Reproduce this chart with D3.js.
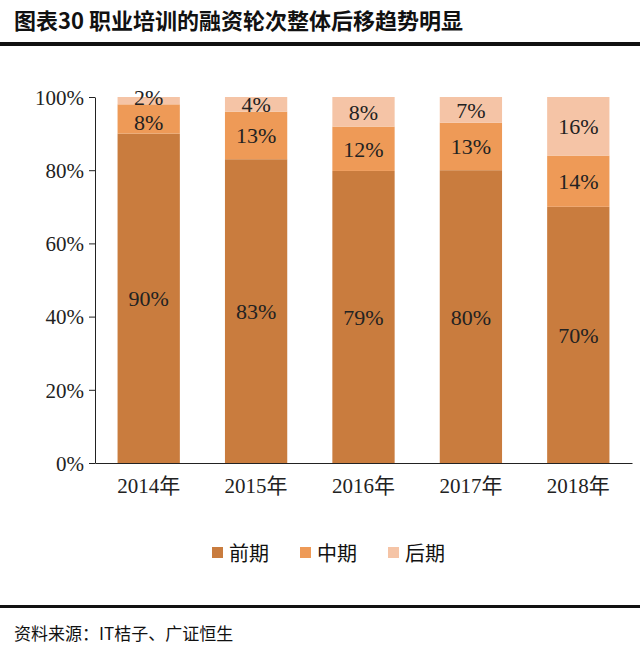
<!DOCTYPE html>
<html><head><meta charset="utf-8">
<script src="https://cdn.jsdelivr.net/npm/d3@7"></script>
<style>body{margin:0;background:#fff}</style></head>
<body><svg id="c" width="640" height="651"></svg>
<script>
const years = ["2014年","2015年","2016年","2017年","2018年"];
const early = [90,83,79,80,70];
const mid = [8,13,12,13,14];
const late = [2,4,8,7,16];
const seriesNames = ["前期","中期","后期"];
const colors = ["#C97C3E","#EE9A57","#F5C4A6"];
const yTicks = [0,0.2,0.4,0.6,0.8,1];

const svg = d3.select("#c");
const font = "'Liberation Serif','Noto Sans CJK SC',serif";
svg.append("text").attr("x",14).attr("y",29).attr("font-family","'Noto Sans CJK SC',sans-serif")
  .attr("font-weight","bold").attr("font-size",22).attr("fill","#111").text("图表30 职业培训的融资轮次整体后移趋势明显");
svg.append("rect").attr("x",0).attr("y",42).attr("width",640).attr("height",4).attr("fill","#111");
svg.append("rect").attr("x",0).attr("y",605).attr("width",640).attr("height",3).attr("fill","#111");
svg.append("text").attr("x",14).attr("y",640).attr("font-family","'Noto Sans CJK SC',sans-serif")
  .attr("font-size",17).attr("fill","#111").text("资料来源：IT桔子、广证恒生");

const rows = years.map((y,i)=>({year:y,"前期":early[i],"中期":mid[i],"后期":late[i]}));
const stack = d3.stack().keys(seriesNames).offset(d3.stackOffsetExpand)(rows);
const x = d3.scaleBand().domain(years).range([95,632]).paddingInner(0.42).paddingOuter(0.21);
const y = d3.scaleLinear().domain([0,1]).range([463,97]);

stack.forEach((s,si)=>{
  svg.append("g").selectAll("rect").data(s).join("rect")
    .attr("x",d=>x(d.data.year)).attr("width",x.bandwidth())
    .attr("y",d=>y(d[1])).attr("height",d=>y(d[0])-y(d[1])).attr("fill",colors[si]);
  svg.append("g").selectAll("text").data(s).join("text")
    .attr("x",d=>x(d.data.year)+x.bandwidth()/2)
    .attr("y",d=>{const h=y(d[0])-y(d[1]); const c=(y(d[0])+y(d[1]))/2 + 8;
      if (d.data["后期"]<3) { if(si==2) return c-4; if(si==1) return c+3; }
      return c;})
    .attr("text-anchor","middle").attr("font-family",font).attr("font-size",22).attr("fill","#222")
    .text(d=>d.data[s.key]+"%");
});

const ya = svg.append("g").attr("transform","translate(95,0)")
  .call(d3.axisLeft(y).tickValues(yTicks).tickFormat(d3.format(".0%")).tickSize(6).tickSizeOuter(0));
ya.select(".domain").attr("stroke","#222");
ya.selectAll("line").attr("stroke","#222");
ya.selectAll("text").attr("font-family",font).attr("font-size",21).attr("fill","#222").attr("dx","-2").attr("dy","0.35em");
const xa = svg.append("g").attr("transform","translate(0,463)")
  .call(d3.axisBottom(x).tickSize(0).tickSizeOuter(0));
xa.select(".domain").attr("stroke","#222");
xa.selectAll("text").attr("font-family",font).attr("font-size",21).attr("fill","#222").attr("dy","1.3em");

const lg = svg.append("g").selectAll("g").data(seriesNames).join("g")
  .attr("transform",(d,i)=>`translate(${212+i*88},544)`);
lg.append("rect").attr("width",11).attr("height",11).attr("y",3).attr("fill",(d,i)=>colors[i]);
lg.append("text").attr("x",17).attr("y",17).attr("font-family","'Noto Sans CJK SC',sans-serif")
  .attr("font-size",20).attr("fill","#111").text(d=>d);
</script></body></html>
